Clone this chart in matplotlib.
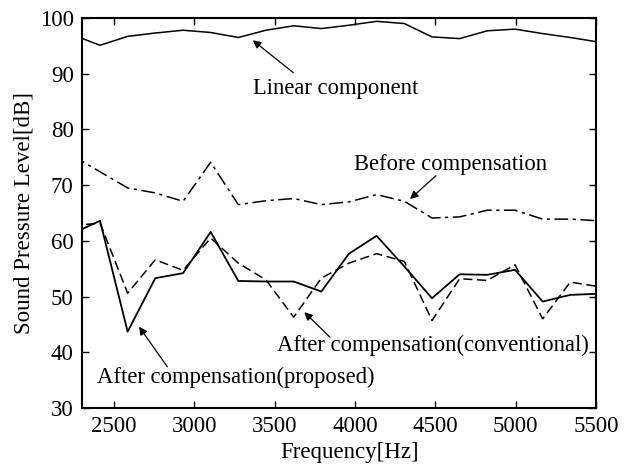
import matplotlib.pyplot as plt

plt.rcParams['font.family'] = 'Liberation Serif'

freq = [2240, 2412, 2584, 2756, 2929, 3101, 3273, 3445, 3618, 3790,
        3962, 4134, 4307, 4479, 4651, 4823, 4996, 5168, 5340, 5512]

linear = [97.0, 95.1, 96.7, 97.3, 97.8, 97.4, 96.5, 97.8, 98.6, 98.1,
          98.7, 99.4, 99.0, 96.6, 96.3, 97.7, 98.0, 97.2, 96.5, 95.7]
before = [75.3, 72.4, 69.5, 68.6, 67.1, 74.1, 66.5, 67.2, 67.6, 66.5,
          67.0, 68.3, 67.1, 64.1, 64.3, 65.5, 65.5, 63.9, 63.9, 63.6]
proposed = [61.3, 63.6, 43.7, 53.3, 54.2, 61.6, 52.8, 52.7, 52.7, 50.9,
            57.7, 60.9, 55.4, 49.7, 54.0, 53.9, 54.8, 49.1, 50.3, 50.5]
conventional = [62.7, 63.2, 50.6, 56.6, 54.7, 60.5, 56.0, 53.0, 46.3, 53.3,
                56.0, 57.7, 56.3, 45.7, 53.2, 52.9, 55.7, 46.0, 52.6, 51.8]

fig = plt.figure(figsize=(6.31, 4.72), dpi=100)
ax = fig.add_axes([0.130, 0.1356, 0.8145, 0.8263])

ax.plot(freq, linear, color='black', lw=1.1)
ax.plot(freq, before, color='black', lw=1.1, dashes=(9, 3, 2, 3))
ax.plot(freq, proposed, color='black', lw=1.3)
ax.plot(freq, conventional, color='black', lw=1.1, dashes=(6, 3))

ax.set_xlim(2300, 5500)
ax.set_ylim(30, 100)
ax.set_xticks([2500, 3000, 3500, 4000, 4500, 5000, 5500])
ax.set_yticks([30, 40, 50, 60, 70, 80, 90, 100])
ax.tick_params(direction='in', top=True, right=True, labelsize=16.5, length=5, width=1, pad=6)
for s in ax.spines.values():
    s.set_linewidth(1.5)

ax.set_xlabel('Frequency[Hz]', fontsize=16.5)
ax.xaxis.set_label_coords(0.52, -0.088)
ax.set_ylabel('Sound Pressure Level[dB]', fontsize=16.5, labelpad=4)

arrow = dict(arrowstyle='-|>', color='black', lw=0.9, mutation_scale=12, shrinkA=0, shrinkB=0)
fs = 16.3
ax.text(3367, 86.4, 'Linear component', fontsize=fs, ha='left', va='baseline')
ax.annotate('', xy=(3363, 96.0), xytext=(3615, 90.2), arrowprops=arrow)
ax.text(3994, 72.8, 'Before compensation', fontsize=fs, ha='left', va='baseline')
ax.annotate('', xy=(4342, 67.5), xytext=(4504, 71.7), arrowprops=arrow)
ax.text(3512, 40.2, 'After compensation(conventional)', fontsize=fs, ha='left', va='baseline')
ax.annotate('', xy=(3684, 47.2), xytext=(3844, 42.7), arrowprops=arrow)
ax.text(2391, 34.4, 'After compensation(proposed)', fontsize=fs, ha='left', va='baseline')
ax.annotate('', xy=(2655, 44.6), xytext=(2831, 37.4), arrowprops=arrow)

fig.savefig('out.png', dpi=100)
